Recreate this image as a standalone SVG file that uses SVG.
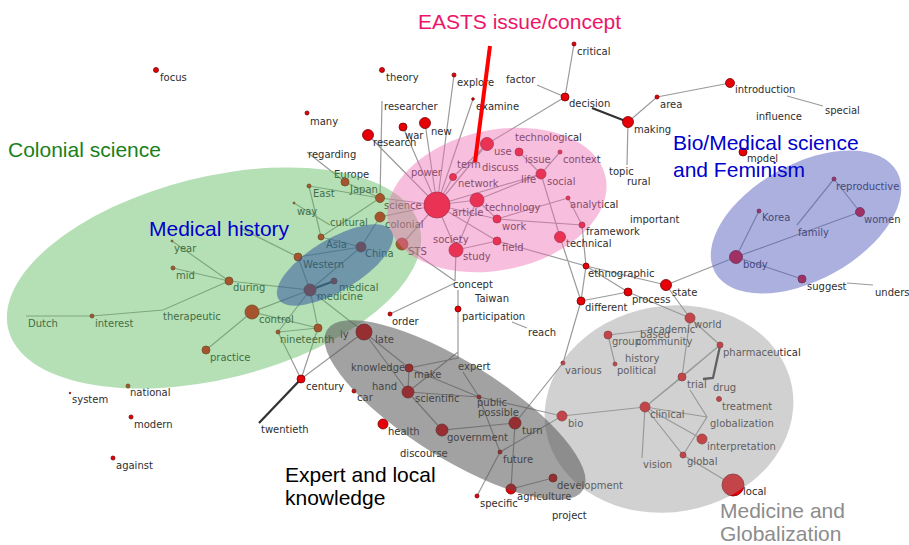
<svg xmlns="http://www.w3.org/2000/svg" width="909" height="545" viewBox="0 0 909 545">
<style>
.e{stroke:#9a9a9a;stroke-width:1.2;fill:none}
.ek{stroke:#333;stroke-width:2.3;fill:none}
.n{fill:#e60008;stroke:#7a0000;stroke-width:0.8}
.t{font-family:"DejaVu Sans",sans-serif;font-size:10px;fill:#2e2e2e}
.cat{font-family:"Liberation Sans",Arial,sans-serif;font-size:21px}
</style>
<rect width="909" height="545" fill="#fff"/>
<g id="edges">
<path class="e" d="M307 152L345 182M382 101L380 198M368 135L437 205M403 127L437 205M425 123L437 205M454 75L437 205M473 99L437 205M487 144L437 205M453 177L437 205M477 200L437 205M380 198L437 205M380 217L437 205M402 244L437 205M456 250L437 205M437 205L497 219M437 205L497 241M437 205L541 174M487 144L453 177M519 152L541 174M560 152L541 174M477 200L541 174M477 200L497 219M541 174L560 237L581 301M568 198L497 219M568 198L582 225M497 219L582 225M582 225L586 266M497 241L586 266M456 250L497 241M456 250L477 200M456 250L455 281M402 244L455 281"/>
<path class="e" d="M565 97L487 144M537 85L565 97M574 44L565 97M628 122L657 97L730 83M787 96L823 106M628 122L627 165M759 211L736 257M736 257L860 212M834 179L797 225M834 179L860 212M736 257L802 279M847 283L873 285M666 285L736 257"/>
<path class="e" d="M586 266L666 285M586 266L628 292M586 266L581 301M581 301L628 292M666 285L690 318M628 292L690 318M581 301L563 363L515 423M608 335L650 330M608 335L615 364M690 318L682 377M690 318L720 345M720 345L682 377M720 345L645 407M682 377L645 407M562 416L645 407M645 407L707 417M690 390L707 417L683 455M645 407L702 439M645 407L683 455L733 485M645 407L642 458"/>
<path class="e" d="M345 182L380 198M309 186L380 198M309 186L321 237M294 203L330 225M321 237L380 198M321 237L361 247M361 247L298 257M361 247L310 290M361 247L380 217M298 257L310 290M298 257L240 228M310 290L229 281M310 290L252 312M252 312L206 350M172 241L229 281M173 268L229 281M26 316L92 316L163 310L229 281M310 290L278 332M310 290L318 328M310 290L364 332M278 332L318 328M252 312L318 328M278 332L301 379M318 328L301 379M301 379L364 332"/>
<path class="e" d="M390 314L455 283M458 290L458 309M458 309L458 358L409 368M512 322L527 328M364 332L409 368M364 332L408 392M409 368L408 392M408 392L458 352M409 368L479 397M408 392L479 397M463 372L479 397M479 397L500 452M479 397L562 416M408 392L442 430L515 423L511 489M477 496L500 452M500 452L562 416M511 489L553 478"/>
<path class="ek" d="M592 108L628 122M310 290L334 281M301 379L259 423M720 346L713 378L703 379"/>
</g>
<g id="n-focus"><circle class="n" cx="156" cy="70" r="2.5"/><text class="t" x="160" y="81">focus</text></g>
<g id="n-many"><circle class="n" cx="307" cy="113" r="2"/><text class="t" x="310" y="125">many</text></g>
<g id="n-theory"><circle class="n" cx="382" cy="70" r="2.5"/><text class="t" x="386" y="81">theory</text></g>
<g id="n-explore"><circle class="n" cx="454" cy="75" r="2"/><text class="t" x="457" y="86">explore</text></g>
<g id="n-examine"><circle class="n" cx="473" cy="99" r="1.3"/><text class="t" x="476" y="110">examine</text></g>
<g id="n-researcher"><text class="t" x="384" y="110">researcher</text></g>
<g id="n-war"><circle class="n" cx="403" cy="127" r="4"/><text class="t" x="405" y="139">war</text></g>
<g id="n-new"><circle class="n" cx="425" cy="123" r="5.5"/><text class="t" x="431" y="135">new</text></g>
<g id="n-research"><circle class="n" cx="368" cy="135" r="5.5"/><text class="t" x="373" y="146">research</text></g>
<g id="n-regarding"><text class="t" x="308" y="158">regarding</text></g>
<g id="n-critical"><circle class="n" cx="574" cy="44" r="2"/><text class="t" x="577" y="55">critical</text></g>
<g id="n-factor"><text class="t" x="506" y="83">factor</text></g>
<g id="n-decision"><circle class="n" cx="565" cy="97" r="4"/><text class="t" x="569" y="107">decision</text></g>
<g id="n-area"><circle class="n" cx="657" cy="97" r="2"/><text class="t" x="660" y="108">area</text></g>
<g id="n-introduction"><circle class="n" cx="730" cy="83" r="4.5"/><text class="t" x="735" y="93">introduction</text></g>
<g id="n-special"><text class="t" x="825" y="114">special</text></g>
<g id="n-influence"><text class="t" x="756" y="120">influence</text></g>
<g id="n-making"><circle class="n" cx="628" cy="122" r="5.5"/><text class="t" x="634" y="133">making</text></g>
<g id="n-topic"><text class="t" x="609" y="175">topic</text></g>
<g id="n-rural"><text class="t" x="627" y="185">rural</text></g>
<g id="n-model"><circle class="n" cx="743" cy="152" r="4"/><text class="t" x="747" y="162">model</text></g>
<g id="n-reproductive"><circle class="n" cx="834" cy="179" r="2"/><text class="t" x="836" y="190">reproductive</text></g>
<g id="n-women"><circle class="n" cx="860" cy="212" r="4.5"/><text class="t" x="864" y="223">women</text></g>
<g id="n-korea"><circle class="n" cx="759" cy="211" r="2"/><text class="t" x="762" y="221">Korea</text></g>
<g id="n-family"><text class="t" x="798" y="236">family</text></g>
<g id="n-body"><circle class="n" cx="736" cy="257" r="6.5"/><text class="t" x="743" y="268">body</text></g>
<g id="n-suggest"><circle class="n" cx="802" cy="279" r="4"/><text class="t" x="807" y="290">suggest</text></g>
<g id="n-understand"><text class="t" x="875" y="296">understand</text></g>
<g id="n-state"><circle class="n" cx="666" cy="285" r="5.5"/><text class="t" x="672" y="296">state</text></g>
<g id="n-important"><text class="t" x="630" y="223">important</text></g>
<g id="n-technological"><text class="t" x="515" y="141">technological</text></g>
<g id="n-use"><circle class="n" cx="487" cy="144" r="6.5"/><text class="t" x="494" y="155">use</text></g>
<g id="n-issue"><circle class="n" cx="519" cy="152" r="4"/><text class="t" x="525" y="163">issue</text></g>
<g id="n-context"><circle class="n" cx="560" cy="152" r="2"/><text class="t" x="563" y="163">context</text></g>
<g id="n-term"><text class="t" x="457" y="168">term</text></g>
<g id="n-discuss"><text class="t" x="482" y="171">discuss</text></g>
<g id="n-network"><circle class="n" cx="453" cy="177" r="3.5"/><text class="t" x="458" y="187">network</text></g>
<g id="n-life"><text class="t" x="521" y="183">life</text></g>
<g id="n-social"><circle class="n" cx="541" cy="174" r="5"/><text class="t" x="547" y="185">social</text></g>
<g id="n-power"><text class="t" x="411" y="176">power</text></g>
<g id="n-article"><circle class="n" cx="437" cy="205" r="13"/><text class="t" x="452" y="216">article</text></g>
<g id="n-technology"><circle class="n" cx="477" cy="200" r="7"/><text class="t" x="485" y="211">technology</text></g>
<g id="n-analytical"><circle class="n" cx="568" cy="198" r="2"/><text class="t" x="570" y="208">analytical</text></g>
<g id="n-work"><circle class="n" cx="497" cy="219" r="4"/><text class="t" x="502" y="230">work</text></g>
<g id="n-framework"><circle class="n" cx="582" cy="225" r="3"/><text class="t" x="586" y="235">framework</text></g>
<g id="n-technical"><circle class="n" cx="560" cy="237" r="5.5"/><text class="t" x="566" y="247">technical</text></g>
<g id="n-science"><circle class="n" cx="380" cy="198" r="4.5"/><text class="t" x="384" y="209">science</text></g>
<g id="n-colonial"><circle class="n" cx="380" cy="217" r="5"/><text class="t" x="385" y="228">colonial</text></g>
<g id="n-sts"><circle class="n" cx="402" cy="244" r="6"/><text class="t" x="408" y="255">STS</text></g>
<g id="n-society"><text class="t" x="433" y="243">society</text></g>
<g id="n-study"><circle class="n" cx="456" cy="250" r="7"/><text class="t" x="463" y="260">study</text></g>
<g id="n-field"><circle class="n" cx="497" cy="241" r="4"/><text class="t" x="502" y="251">field</text></g>
<g id="n-europe"><circle class="n" cx="345" cy="182" r="4"/><text class="t" x="334" y="178">Europe</text></g>
<g id="n-east"><circle class="n" cx="309" cy="186" r="2"/><text class="t" x="313" y="197">East</text></g>
<g id="n-japan"><text class="t" x="350" y="193">Japan</text></g>
<g id="n-way"><circle class="n" cx="294" cy="203" r="1"/><text class="t" x="297" y="215">way</text></g>
<g id="n-cultural"><text class="t" x="330" y="226">cultural</text></g>
<g id="n-asia"><circle class="n" cx="321" cy="237" r="3"/><text class="t" x="326" y="248">Asia</text></g>
<g id="n-china"><circle class="n" cx="361" cy="247" r="5"/><text class="t" x="365" y="257">China</text></g>
<g id="n-western"><circle class="n" cx="298" cy="257" r="4"/><text class="t" x="303" y="268">Western</text></g>
<g id="n-medical"><circle class="n" cx="334" cy="281" r="3"/><text class="t" x="339" y="291">medical</text></g>
<g id="n-medicine"><circle class="n" cx="310" cy="290" r="6"/><text class="t" x="317" y="300">medicine</text></g>
<g id="n-during"><circle class="n" cx="229" cy="281" r="4"/><text class="t" x="233" y="291">during</text></g>
<g id="n-year"><circle class="n" cx="172" cy="241" r="1"/><text class="t" x="174" y="252">year</text></g>
<g id="n-mid"><circle class="n" cx="173" cy="268" r="2"/><text class="t" x="176" y="279">mid</text></g>
<g id="n-dutch"><text class="t" x="28" y="327">Dutch</text></g>
<g id="n-interest"><circle class="n" cx="92" cy="316" r="2"/><text class="t" x="95" y="327">interest</text></g>
<g id="n-therapeutic"><text class="t" x="163" y="320">therapeutic</text></g>
<g id="n-control"><circle class="n" cx="252" cy="312" r="7"/><text class="t" x="259" y="323">control</text></g>
<g id="n-practice"><circle class="n" cx="206" cy="350" r="4"/><text class="t" x="210" y="361">practice</text></g>
<g id="n-nineteenth"><circle class="n" cx="278" cy="332" r="2"/><text class="t" x="280" y="343">nineteenth</text></g>
<g id="n-ly"><circle class="n" cx="318" cy="328" r="4"/><text class="t" x="340" y="338">ly</text></g>
<g id="n-century"><circle class="n" cx="301" cy="379" r="4"/><text class="t" x="306" y="390">century</text></g>
<g id="n-twentieth"><text class="t" x="261" y="433">twentieth</text></g>
<g id="n-system"><circle class="n" cx="70" cy="393" r="0.8"/><text class="t" x="72" y="403">system</text></g>
<g id="n-national"><circle class="n" cx="128" cy="386" r="2"/><text class="t" x="130" y="396">national</text></g>
<g id="n-modern"><circle class="n" cx="131" cy="417" r="2"/><text class="t" x="134" y="428">modern</text></g>
<g id="n-against"><circle class="n" cx="113" cy="458" r="2"/><text class="t" x="116" y="469">against</text></g>
<g id="n-order"><circle class="n" cx="390" cy="314" r="2"/><text class="t" x="392" y="325">order</text></g>
<g id="n-concept"><text class="t" x="453" y="288">concept</text></g>
<g id="n-taiwan"><text class="t" x="475" y="302">Taiwan</text></g>
<g id="n-participation"><circle class="n" cx="458" cy="309" r="3"/><text class="t" x="462" y="320">participation</text></g>
<g id="n-reach"><text class="t" x="528" y="336">reach</text></g>
<g id="n-late"><circle class="n" cx="364" cy="332" r="8"/><text class="t" x="375" y="343">late</text></g>
<g id="n-knowledge"><circle class="n" cx="409" cy="368" r="4"/><text class="t" x="351" y="371">knowledge</text></g>
<g id="n-make"><text class="t" x="414" y="378">make</text></g>
<g id="n-expert"><text class="t" x="458" y="370">expert</text></g>
<g id="n-hand"><text class="t" x="372" y="390">hand</text></g>
<g id="n-scientific"><circle class="n" cx="408" cy="392" r="6"/><text class="t" x="415" y="402">scientific</text></g>
<g id="n-car"><circle class="n" cx="354" cy="391" r="2"/><text class="t" x="357" y="401">car</text></g>
<g id="n-public"><circle class="n" cx="479" cy="397" r="2"/><text class="t" x="477" y="406">public</text></g>
<g id="n-possible"><text class="t" x="478" y="416">possible</text></g>
<g id="n-turn"><circle class="n" cx="515" cy="423" r="6"/><text class="t" x="522" y="434">turn</text></g>
<g id="n-health"><circle class="n" cx="383" cy="424" r="5"/><text class="t" x="388" y="435">health</text></g>
<g id="n-government"><circle class="n" cx="442" cy="430" r="6"/><text class="t" x="447" y="441">government</text></g>
<g id="n-discourse"><text class="t" x="400" y="457">discourse</text></g>
<g id="n-future"><circle class="n" cx="500" cy="452" r="2"/><text class="t" x="503" y="463">future</text></g>
<g id="n-agriculture"><circle class="n" cx="511" cy="489" r="5"/><text class="t" x="517" y="500">agriculture</text></g>
<g id="n-development"><circle class="n" cx="553" cy="478" r="4"/><text class="t" x="557" y="489">development</text></g>
<g id="n-specific"><circle class="n" cx="477" cy="496" r="2"/><text class="t" x="480" y="507">specific</text></g>
<g id="n-project"><text class="t" x="552" y="519">project</text></g>
<g id="n-bio"><circle class="n" cx="562" cy="416" r="5"/><text class="t" x="568" y="427">bio</text></g>
<g id="n-various"><circle class="n" cx="563" cy="363" r="2"/><text class="t" x="565" y="374">various</text></g>
<g id="n-ethnographic"><circle class="n" cx="586" cy="266" r="3"/><text class="t" x="588" y="277">ethnographic</text></g>
<g id="n-process"><circle class="n" cx="628" cy="292" r="4"/><text class="t" x="632" y="303">process</text></g>
<g id="n-different"><circle class="n" cx="581" cy="301" r="4"/><text class="t" x="585" y="311">different</text></g>
<g id="n-world"><circle class="n" cx="690" cy="318" r="5"/><text class="t" x="694" y="328">world</text></g>
<g id="n-academic"><text class="t" x="647" y="333">academic</text></g>
<g id="n-based"><text class="t" x="640" y="338">based</text></g>
<g id="n-group"><circle class="n" cx="608" cy="335" r="4"/><text class="t" x="612" y="345">group</text></g>
<g id="n-community"><text class="t" x="636" y="345">community</text></g>
<g id="n-history"><text class="t" x="625" y="362">history</text></g>
<g id="n-political"><circle class="n" cx="615" cy="364" r="2"/><text class="t" x="617" y="374">political</text></g>
<g id="n-pharmaceutical"><circle class="n" cx="720" cy="345" r="3"/><text class="t" x="723" y="356">pharmaceutical</text></g>
<g id="n-trial"><circle class="n" cx="682" cy="377" r="4"/><text class="t" x="687" y="388">trial</text></g>
<g id="n-drug"><text class="t" x="713" y="391">drug</text></g>
<g id="n-treatment"><circle class="n" cx="719" cy="399" r="2.5"/><text class="t" x="722" y="410">treatment</text></g>
<g id="n-clinical"><circle class="n" cx="645" cy="407" r="5"/><text class="t" x="650" y="418">clinical</text></g>
<g id="n-globalization"><text class="t" x="710" y="427">globalization</text></g>
<g id="n-interpretation"><circle class="n" cx="702" cy="439" r="5"/><text class="t" x="707" y="450">interpretation</text></g>
<g id="n-global"><circle class="n" cx="683" cy="455" r="3"/><text class="t" x="687" y="465">global</text></g>
<g id="n-vision"><text class="t" x="643" y="468">vision</text></g>
<g id="n-local"><circle class="n" cx="733" cy="485" r="11"/><text class="t" x="743" y="495">local</text></g>
<g id="clusters">
<ellipse id="c-colonial" cx="214" cy="278" rx="212" ry="101" transform="rotate(-14 214 278)" fill="#5cb85c" fill-opacity="0.45"/>
<ellipse id="c-medhist" cx="335" cy="265" rx="66" ry="26" transform="rotate(-31 335 265)" fill="#2c4f9e" fill-opacity="0.5"/>
<ellipse id="c-easts" cx="497" cy="200" rx="111" ry="70" transform="rotate(-12 497 200)" fill="#f06eb4" fill-opacity="0.45"/>
<ellipse id="c-bio" cx="806" cy="222" rx="104" ry="58" transform="rotate(-29 806 222)" fill="#5a62c0" fill-opacity="0.5"/>
<ellipse id="c-global" cx="669" cy="409" rx="125" ry="103" transform="rotate(-10 669 409)" fill="#999" fill-opacity="0.45"/>
<ellipse id="c-expert" cx="455" cy="410" rx="151" ry="48" transform="rotate(32 455 410)" fill="#555" fill-opacity="0.55"/>
</g>
<g id="labels">
<line x1="490" y1="46" x2="475" y2="162" stroke="#ff0000" stroke-width="4"/>
<text class="cat" x="418" y="29" fill="#ec1569">EASTS issue/concept</text>
<text class="cat" x="8" y="157" fill="#1a7f1a">Colonial science</text>
<text class="cat" x="149" y="236" fill="#0000cc">Medical history</text>
<text class="cat" x="673" y="150" fill="#0000cc">Bio/Medical science</text>
<text class="cat" x="673" y="177" fill="#0000cc">and Feminism</text>
<text class="cat" x="285" y="482" fill="#000">Expert and local</text>
<text class="cat" x="285" y="505" fill="#000">knowledge</text>
<text class="cat" x="720" y="518" fill="#8c8c8c">Medicine and</text>
<text class="cat" x="720" y="541" fill="#8c8c8c">Globalization</text>
</g>
</svg>
